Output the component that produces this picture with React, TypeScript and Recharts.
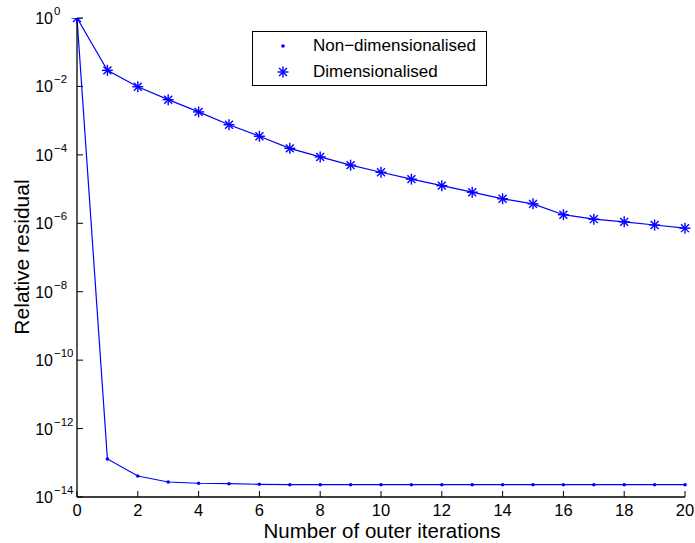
import { Label, Line, LineChart, XAxis, YAxis } from "recharts";

// data
const iterations = [0, 1, 2, 3, 4, 5, 6, 7, 8, 9, 10, 11, 12, 13, 14, 15, 16, 17, 18, 19, 20];
const nonDimensionalised = [
  1, 1.29e-13, 4.1e-14, 2.74e-14, 2.52e-14, 2.45e-14, 2.35e-14, 2.29e-14, 2.29e-14, 2.29e-14, 2.29e-14,
  2.29e-14, 2.29e-14, 2.29e-14, 2.29e-14, 2.29e-14, 2.29e-14, 2.29e-14, 2.29e-14, 2.29e-14, 2.29e-14,
];
const dimensionalised = [
  1, 2.95e-2, 9.8e-3, 4.1e-3, 1.8e-3, 7.6e-4, 3.5e-4, 1.55e-4, 8.7e-5, 5.0e-5, 3.1e-5, 1.95e-5, 1.26e-5,
  8.1e-6, 5.2e-6, 3.7e-6, 1.78e-6, 1.32e-6, 1.1e-6, 8.9e-7, 7.2e-7,
];
const seriesNames = ["Non\u2212dimensionalised", "Dimensionalised"];
const xTicks = [0, 2, 4, 6, 8, 10, 12, 14, 16, 18, 20];
const yExponents = [0, -2, -4, -6, -8, -10, -12, -14];

const rows = iterations.map((it, i) => ({ it, nonDim: nonDimensionalised[i], dim: dimensionalised[i] }));
const yTicks = yExponents.map((e) => Math.pow(10, e));

const FONT = "'Liberation Sans', Arial, Helvetica, sans-serif";
const BLUE = "#0000ff";

const BottomTick = ({ x, y, payload }: any) => (
  <g>
    <line x1={x} y1={y} x2={x} y2={y - 6} stroke="#000" />
    <text x={x} y={y + 19} textAnchor="middle" fontSize={16.5} fontFamily={FONT} fill="#000">
      {payload.value}
    </text>
  </g>
);

const TopTick = ({ x, y }: any) => <line x1={x} y1={y} x2={x} y2={y + 6} stroke="#000" />;
const RightTick = ({ x, y }: any) => <line x1={x} y1={y} x2={x - 6} y2={y} stroke="#000" />;

const LeftTick = ({ x, y, payload }: any) => {
  const exp = Math.round(Math.log10(payload.value));
  return (
    <g>
      <line x1={x} y1={y} x2={x + 6} y2={y} stroke="#000" />
      <text x={x - 24} y={y + 6} textAnchor="end" fontSize={16} fontFamily={FONT} fill="#000">
        10
      </text>
      <text x={x - 23} y={y - 3} textAnchor="start" fontSize={11.5} fontFamily={FONT} fill="#000">
        {exp < 0 ? "\u2212" + Math.abs(exp) : exp}
      </text>
    </g>
  );
};

const Asterisk = ({ cx, cy }: any) => {
  const r = 5.5;
  const d = r * 0.72;
  return (
    <g stroke={BLUE} strokeWidth={1.4}>
      <line x1={cx - r} y1={cy} x2={cx + r} y2={cy} />
      <line x1={cx} y1={cy - r} x2={cx} y2={cy + r} />
      <line x1={cx - d} y1={cy - d} x2={cx + d} y2={cy + d} />
      <line x1={cx - d} y1={cy + d} x2={cx + d} y2={cy - d} />
    </g>
  );
};

const Point = ({ cx, cy }: any) => <circle cx={cx} cy={cy} r={1.8} fill={BLUE} />;

function LegendBox() {
  return (
    <div
      style={{
        position: "absolute",
        left: 252,
        top: 31,
        width: 233,
        height: 53,
        border: "1px solid #000",
        background: "#fff",
        fontFamily: FONT,
        fontSize: 17,
        color: "#000",
      }}
    >
      {seriesNames.map((name, i) => (
        <div key={name} style={{ position: "absolute", left: 0, top: 3 + i * 26, height: 22, display: "flex", alignItems: "center" }}>
          <svg width={60} height={22}>
            {i === 0 ? <Point cx={30} cy={11} /> : <Asterisk cx={30} cy={11} />}
          </svg>
          <span>{name}</span>
        </div>
      ))}
    </div>
  );
}

export default function App() {
  return (
    <div style={{ position: "absolute", left: 0, top: 0, width: 695, height: 543, background: "#fff" }}>
      <LineChart width={695} height={543} data={rows} margin={{ top: 18, right: 10, bottom: 0, left: 0 }}>
        <XAxis
          xAxisId="bottom"
          dataKey="it"
          type="number"
          domain={[0, 20]}
          ticks={xTicks}
          height={46}
          tickSize={0}
          tickMargin={0}
          tickLine={false}
          tick={<BottomTick />}
          axisLine={{ stroke: "#000", strokeWidth: 1.3 }}
          interval={0}
        >
          <Label
            content={() => (
              <text x={382} y={538} textAnchor="middle" fontSize={20.5} fontFamily={FONT} fill="#000">
                Number of outer iterations
              </text>
            )}
          />
        </XAxis>
        <XAxis
          xAxisId="top"
          orientation="top"
          dataKey="it"
          type="number"
          domain={[0, 20]}
          ticks={xTicks}
          height={0}
          tickSize={0}
          tickMargin={0}
          tickLine={false}
          tick={<TopTick />}
          axisLine={{ stroke: "#000", strokeWidth: 1.3 }}
          interval={0}
        />
        <YAxis
          yAxisId="left"
          type="number"
          scale="log"
          domain={[1e-14, 1]}
          allowDataOverflow
          ticks={yTicks}
          width={77}
          tickSize={0}
          tickMargin={0}
          tickLine={false}
          tick={<LeftTick />}
          axisLine={{ stroke: "#000", strokeWidth: 1.3 }}
          interval={0}
        >
          <Label
            content={() => (
              <text
                x={29}
                y={257}
                transform="rotate(-90, 29, 257)"
                textAnchor="middle"
                fontSize={21}
                fontFamily={FONT}
                fill="#000"
              >
                Relative residual
              </text>
            )}
          />
        </YAxis>
        <YAxis
          yAxisId="right"
          orientation="right"
          type="number"
          scale="log"
          domain={[1e-14, 1]}
          allowDataOverflow
          ticks={yTicks}
          width={0}
          tickSize={0}
          tickMargin={0}
          tickLine={false}
          tick={<RightTick />}
          axisLine={{ stroke: "#000", strokeWidth: 1.3 }}
          interval={0}
        />
        <Line
          xAxisId="bottom"
          yAxisId="left"
          dataKey="nonDim"
          name={seriesNames[0]}
          stroke={BLUE}
          strokeWidth={1.2}
          dot={<Point />}
          activeDot={false}
          isAnimationActive={false}
        />
        <Line
          xAxisId="bottom"
          yAxisId="left"
          dataKey="dim"
          name={seriesNames[1]}
          stroke={BLUE}
          strokeWidth={1.2}
          dot={<Asterisk />}
          activeDot={false}
          isAnimationActive={false}
        />
      </LineChart>
      <LegendBox />
    </div>
  );
}
